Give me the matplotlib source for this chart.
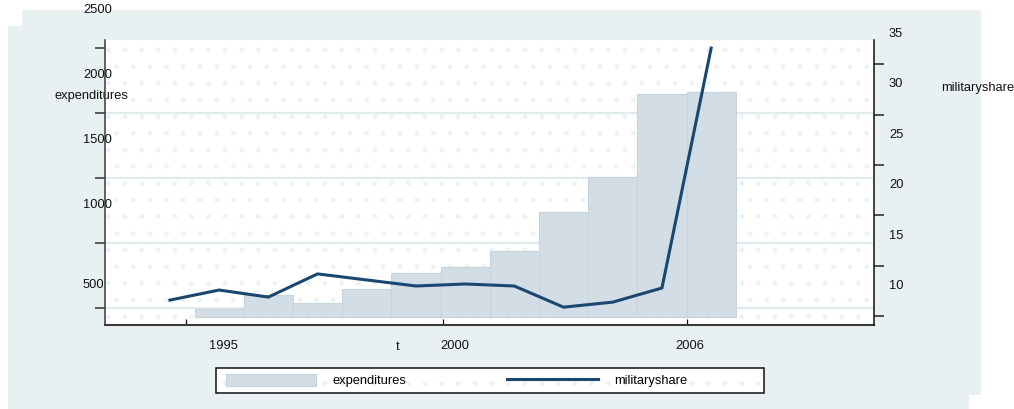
import matplotlib
matplotlib.use('Agg')
import matplotlib.pyplot as plt
import matplotlib.transforms as mtransforms
from matplotlib.patches import Rectangle

# values
years = [1994, 1995, 1996, 1997, 1998, 1999, 2000, 2001, 2002, 2003, 2004, 2005]
militaryshare = [8.6, 9.6, 8.9, 11.2, 10.6, 10.0, 10.2, 10.0, 7.9, 8.4, 9.8, 33.6]

bar_years = [1995, 1996, 1997, 1998, 1999, 2000, 2001, 2002, 2003, 2004, 2005]
expenditures = [200, 308, 246, 354, 477, 523, 646, 946, 1215, 1854, 1869]

exp_labels = ['2500', '2000', '1500', '1000', '500']
share_labels = ['10', '15', '20', '25', '30', '35']
year_labels = ['1995', '2000', '2006']

# where ticks / labels sit (the original graph has them shifted)
exp_label_at = [2500, 2000, 1500, 1000, 385]
exp_ticks = [208, 708, 1208, 1708, 2208]
share_label_at = [10, 15, 20, 25, 30, 35]
share_ticks = [7, 12, 17, 22, 27, 32]
year_label_at = [1995.08, 1999.79, 2004.57]
year_ticks = [1994.33, 1999.55, 2004.51]
bar_base = 138.5

W, H = 1014, 409
BG = '#E9F0F2'
NAVY = '#1A476F'
BARC = '#D3DDE5'
TEX = '#EEF2F5'
GRID = '#E2EAEE'
FS = 9.3

plt.rcParams['font.family'] = ['Liberation Sans', 'DejaVu Sans']
plt.rcParams['font.size'] = FS
plt.rcParams['hatch.linewidth'] = 1.0

fig = plt.figure(figsize=(W / 100, H / 100), dpi=100)


def box(x0, y0, x1, y1):
    # pixel box, origin top-left -> figure fraction
    return (x0 / W, 1 - y1 / H), (x1 - x0) / W, (y1 - y0) / H


# graph region background
for b in [(22, 10, 981, 26), (8, 26, 981, 395), (8, 395, 969, 409)]:
    xy, w, h = box(*b)
    fig.patches.append(Rectangle(xy, w, h, transform=fig.transFigure,
                                 facecolor=BG, edgecolor='none', zorder=-5))

ax = fig.add_axes([105 / W, 1 - 325 / H, (874 - 105) / W, (325 - 40) / H])
ax.patch.set_facecolor('white')
ax.patch.set_edgecolor(TEX)
ax.patch.set_linewidth(0)
ax.patch.set_hatch('.')

for t in exp_ticks[:-1]:
    ax.axhline(t, color=GRID, lw=1.6, zorder=0.5)

bars = ax.bar(bar_years, [e - bar_base for e in expenditures], bottom=bar_base,
              width=1.0, color=BARC, edgecolor='#C7D3DD', linewidth=0.8,
              zorder=2, label='expenditures')

ax.set_xlim(1992.68, 2008.31)
ax.set_ylim(76.9, 2269)

ax.set_yticks(exp_ticks)
ax.set_yticklabels([])
ax.tick_params(axis='y', length=7.2, width=1.1, direction='out', color='#333333')
lt = mtransforms.blended_transform_factory(ax.transAxes, ax.transData)
for v, s in zip(exp_label_at, exp_labels):
    ax.text(-0.0286, v, s, transform=lt, ha='left', va='center',
            fontsize=FS, color='#111111', clip_on=False)

ax.set_xticks(year_label_at, labels=year_labels)
ax.set_xticks(year_ticks, minor=True)
ax.tick_params(axis='x', which='major', length=0, pad=11, labelcolor='#111111')
ax.tick_params(axis='x', which='minor', direction='in', length=4.3, width=0.9,
               color='#111111')
ax.set_xlabel('t', va='top', color='#111111')
ax.xaxis.set_label_coords(0.381, -0.056)
ax.set_ylabel('expenditures', rotation=0, ha='center', va='center', color='#111111')
ax.yaxis.set_label_coords(-0.017, 0.804)

ax.spines['top'].set_visible(False)
ax.spines['right'].set_visible(False)
ax.spines['left'].set_color('#3a3a3a')
ax.spines['left'].set_linewidth(1.1)
ax.spines['bottom'].set_color('#3a3a3a')
ax.spines['bottom'].set_linewidth(1.5)

ax2 = ax.twinx()
line, = ax2.plot(years, militaryshare, color=NAVY, lw=2.2, label='militaryshare',
                 zorder=3)
ax2.set_ylim(6.131, 34.405)
ax2.set_yticks(share_ticks)
ax2.set_yticklabels([])
ax2.tick_params(axis='y', length=7.2, width=1.1, direction='out', color='#222222')
rt = mtransforms.blended_transform_factory(ax2.transAxes, ax2.transData)
for v, s in zip(share_label_at, share_labels):
    ax2.text(1.0195, v, s, transform=rt, ha='left', va='center',
             fontsize=FS, color='#111111', clip_on=False)
ax2.set_ylabel('militaryshare', rotation=0, ha='left', va='center', color='#111111')
ax2.yaxis.set_label_coords(1.087, 0.832)
for k in ['top', 'left', 'bottom']:
    ax2.spines[k].set_visible(False)
ax2.spines['right'].set_color('#111111')
ax2.spines['right'].set_linewidth(1.1)

# legend box
xy, w, h = box(215.5, 368, 764, 393)
fig.patches.append(Rectangle(xy, w, h, transform=fig.transFigure, facecolor='white',
                             edgecolor=TEX, linewidth=0, hatch='.', zorder=1))
fig.patches.append(Rectangle(xy, w, h, transform=fig.transFigure, facecolor='none',
                             edgecolor='#111111', linewidth=1.1, zorder=1))
fig.legend([bars, line], ['expenditures', 'militaryshare'], loc='center left',
           bbox_to_anchor=(226 / W, 1 - 380.5 / H), ncol=2, frameon=False,
           borderpad=0, borderaxespad=0, handlelength=7.0, handleheight=1.16,
           handletextpad=1.24, columnspacing=7.83, fontsize=FS)

fig.savefig('out.png', dpi=100, facecolor='white')
